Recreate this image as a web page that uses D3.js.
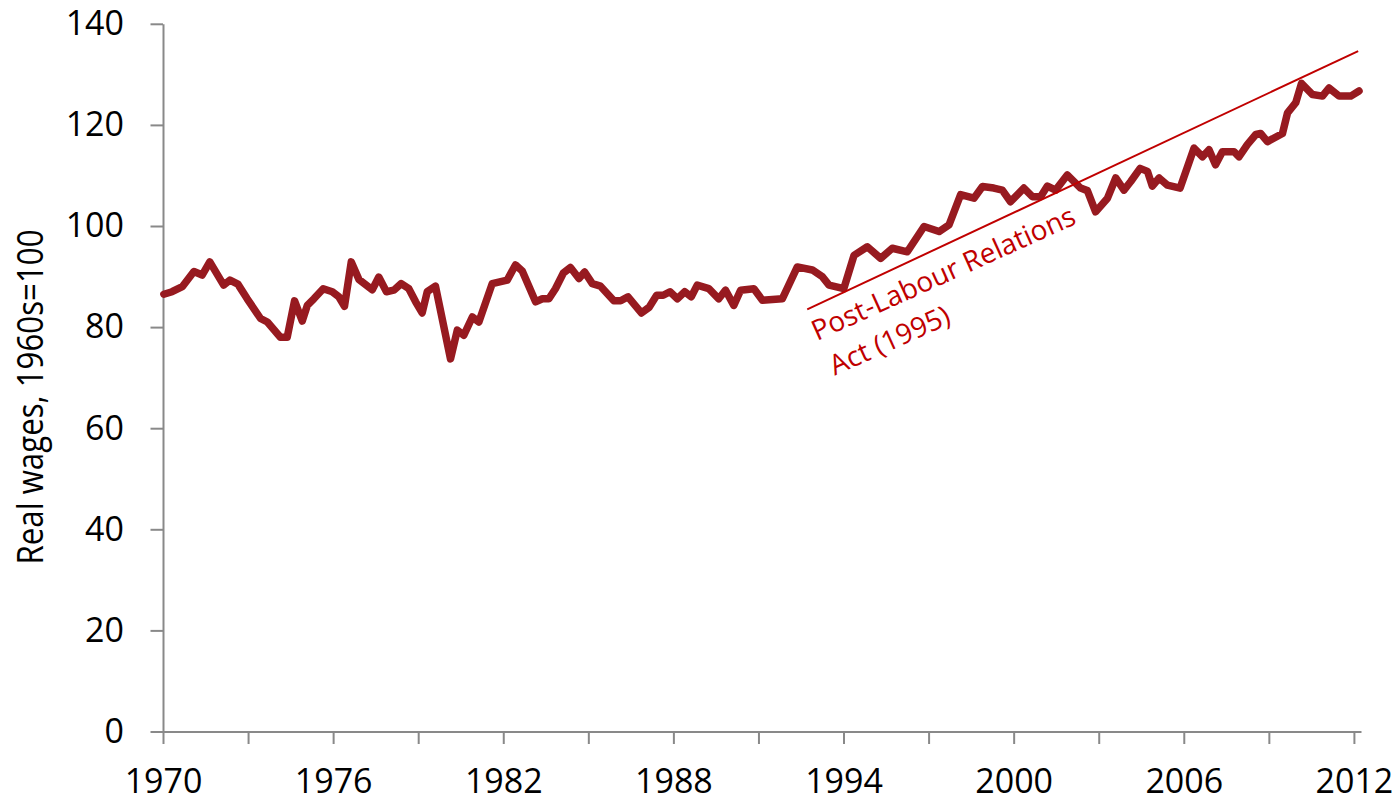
<!DOCTYPE html>
<html>
<head>
<meta charset="utf-8">
<title>Real wages</title>
<script src="https://cdn.jsdelivr.net/npm/d3@7"></script>
<style>
	html, body { margin: 0; padding: 0; background: #fff; }
	#chart-area { width: 1400px; height: 801px; }
	.axis path, .axis line { stroke: #898989; stroke-width: 2px; }
	.axis text { font-family: "Open Sans", sans-serif; font-size: 34px; fill: #000; }
</style>
</head>
<body>
<div id="chart-area"></div>
<script>

// Series (decimal year, index 1960s = 100)
const dates = [
	1970.03, 1970.32, 1970.68, 1971.09, 1971.38, 1971.65, 1972.14, 1972.36, 1972.64, 1972.97,
	1973.44, 1973.68, 1974.14, 1974.38, 1974.64, 1974.91, 1975.09, 1975.32, 1975.65, 1975.97,
	1976.20, 1976.40, 1976.64, 1976.91, 1977.38, 1977.61, 1977.88, 1978.14, 1978.40, 1978.67,
	1978.91, 1979.14, 1979.32, 1979.61, 1980.14, 1980.38, 1980.61, 1980.91, 1981.14, 1981.61,
	1982.14, 1982.43, 1982.67, 1983.14, 1983.38, 1983.61, 1983.84, 1984.12, 1984.37, 1984.67,
	1984.87, 1985.14, 1985.43, 1985.90, 1986.14, 1986.40, 1986.87, 1987.14, 1987.41, 1987.64,
	1987.88, 1988.14, 1988.40, 1988.63, 1988.84, 1989.25, 1989.60, 1989.84, 1990.13, 1990.37,
	1990.84, 1991.14, 1991.84, 1992.37, 1992.90, 1993.25, 1993.49, 1994.01, 1994.37, 1994.84,
	1995.31, 1995.72, 1996.25, 1996.84, 1997.37, 1997.72, 1998.13, 1998.60, 1998.90, 1999.30,
	1999.60, 1999.89, 2000.36, 2000.66, 2000.95, 2001.19, 2001.48, 2001.89, 2002.36, 2002.60,
	2002.89, 2003.31, 2003.60, 2003.89, 2004.13, 2004.46, 2004.72, 2004.89, 2005.13, 2005.42,
	2005.87, 2006.36, 2006.66, 2006.89, 2007.12, 2007.36, 2007.77, 2007.95, 2008.24, 2008.54,
	2008.71, 2008.95, 2009.48, 2009.66, 2009.95, 2010.15, 2010.54, 2010.89, 2011.12, 2011.48,
	2011.89, 2012.18
];

const wages = [
	86.5, 87.0, 88.0, 91.0, 90.3, 92.9, 88.3, 89.3, 88.5, 85.6,
	81.7, 81.0, 78.0, 78.0, 85.2, 81.2, 84.3, 85.6, 87.6, 87.0,
	86.0, 84.1, 92.9, 89.4, 87.4, 89.9, 87.0, 87.3, 88.6, 87.6,
	85.0, 82.8, 87.0, 88.1, 73.7, 79.4, 78.4, 82.0, 81.0, 88.6,
	89.3, 92.3, 91.1, 85.0, 85.6, 85.6, 87.6, 90.7, 91.8, 89.6,
	90.9, 88.6, 88.1, 85.2, 85.2, 86.0, 82.8, 83.9, 86.3, 86.3,
	87.0, 85.6, 87.0, 86.0, 88.3, 87.6, 85.6, 87.3, 84.3, 87.3,
	87.6, 85.3, 85.6, 91.9, 91.3, 90.0, 88.3, 87.6, 94.2, 95.9,
	93.6, 95.6, 94.9, 99.9, 98.9, 100.2, 106.2, 105.5, 107.8, 107.5,
	107.1, 104.8, 107.5, 105.8, 105.8, 107.9, 107.1, 110.1, 107.5, 107.0,
	102.8, 105.5, 109.5, 107.1, 108.8, 111.4, 110.8, 107.9, 109.5, 108.1,
	107.5, 115.4, 113.7, 115.1, 112.1, 114.7, 114.7, 113.7, 116.1, 118.1,
	118.3, 116.7, 118.3, 122.4, 124.4, 128.2, 126.0, 125.7, 127.3, 125.7,
	125.7, 126.7
];

// Hand-drawn trend line in the original (start and end point)
const trendDates = [1992.72, 2012.15];
const trendValues = [83.5, 134.6];

const xTicks = d3.range(1970, 2013, 3);
const xLabels = [1970, 1976, 1982, 1988, 1994, 2000, 2006, 2012];
const yTicks = [0, 20, 40, 60, 80, 100, 120, 140];

const yTitle = "Real wages, 1960s=100";
const noteLines = ["Post-Labour Relations", "Act (1995)"];


class WageChart {

	constructor(parentElement) {
		this.parentElement = parentElement;
		this.data = dates.map((d, i) => ({date: d, value: wages[i]}));
		this.trend = trendDates.map((d, i) => ({date: d, value: trendValues[i]}));
		this.initVis();
	}

	initVis() {
		let vis = this;

		vis.margin = {top: 23.8, right: 39, bottom: 69.5, left: 163};
		vis.width = 1400 - vis.margin.left - vis.margin.right;
		vis.height = 801 - vis.margin.top - vis.margin.bottom;

		vis.svg = d3.select("#" + vis.parentElement).append("svg")
			.attr("width", 1400)
			.attr("height", 801)
			.append("g")
			.attr("transform", "translate(" + vis.margin.left + "," + vis.margin.top + ")");

		// axis runs a quarter year past the last labelled tick
		vis.x = d3.scaleLinear()
			.domain([1970, 2012.25])
			.range([0, vis.width]);

		vis.y = d3.scaleLinear()
			.domain([0, 140])
			.range([vis.height, 0]);

		vis.xAxis = d3.axisBottom(vis.x)
			.tickValues(xTicks)
			.tickSize(12.5)
			.tickSizeOuter(0)
			.tickFormat(d => xLabels.includes(d) ? d : "");

		vis.yAxis = d3.axisLeft(vis.y)
			.tickValues(yTicks)
			.tickSize(12.5)
			.tickSizeOuter(0)
			.tickPadding(26.5);

		vis.svg.append("g")
			.attr("class", "x-axis axis")
			.attr("transform", "translate(0," + vis.height + ")")
			.call(vis.xAxis);

		vis.svg.select(".x-axis").selectAll("text")
			.attr("y", 61)
			.attr("dy", 0);

		vis.svg.append("g")
			.attr("class", "y-axis axis")
			.call(vis.yAxis);

		// y axis title (squeezed to the narrow width of the original)
		vis.svg.append("text")
			.attr("transform", "translate(" + (43 - vis.margin.left) + "," + (397 - vis.margin.top) + ") rotate(-90)")
			.attr("text-anchor", "middle")
			.attr("textLength", 335)
			.attr("lengthAdjust", "spacingAndGlyphs")
			.style("font-family", "'Open Sans', sans-serif")
			.style("font-size", "36px")
			.text(yTitle);

		vis.line = d3.line()
			.x(d => vis.x(d.date))
			.y(d => vis.y(d.value));

		vis.svg.append("path")
			.datum(vis.data)
			.attr("fill", "none")
			.attr("stroke", "#971a20")
			.attr("stroke-width", 7.5)
			.attr("stroke-linejoin", "round")
			.attr("stroke-linecap", "round")
			.attr("d", vis.line);

		vis.svg.append("path")
			.datum(vis.trend)
			.attr("fill", "none")
			.attr("stroke", "#c00000")
			.attr("stroke-width", 2)
			.attr("d", vis.line);

		// annotation, rotated to follow the trend line
		let note = vis.svg.append("text")
			.attr("transform", "translate(" + (817 - vis.margin.left) + "," + (341 - vis.margin.top) + ") rotate(-24.3)")
			.style("font-family", "'Open Sans', sans-serif")
			.style("font-size", "28px")
			.attr("fill", "#c00000");

		note.selectAll("tspan")
			.data(noteLines)
			.enter()
			.append("tspan")
			.attr("x", (d, i) => i * 2)
			.attr("y", (d, i) => i * 39)
			.text(d => d);
	}
}

new WageChart("chart-area");

</script>
</body>
</html>
